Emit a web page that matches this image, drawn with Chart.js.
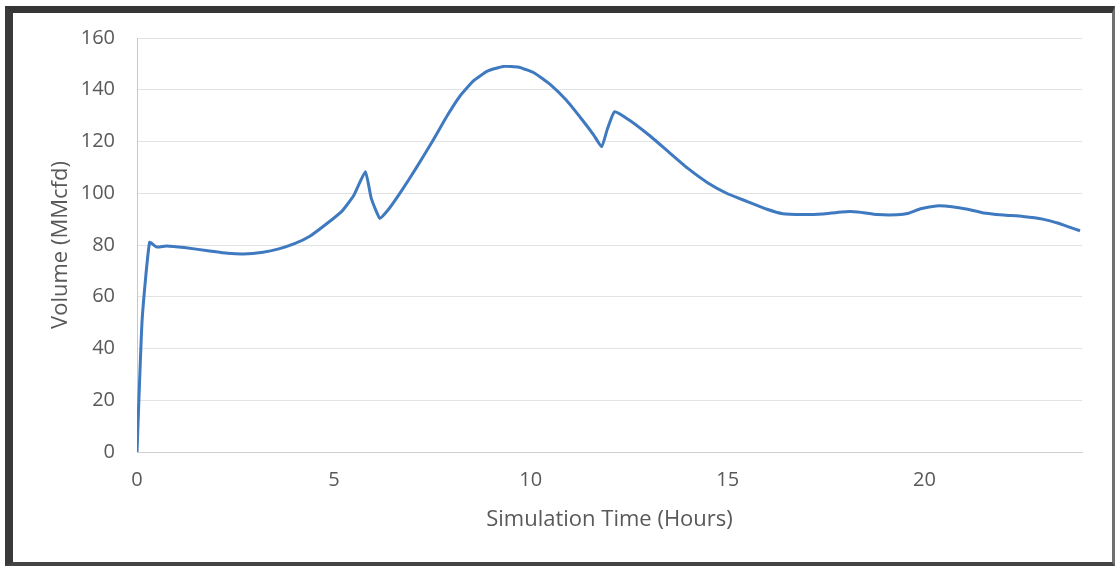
<!DOCTYPE html>
<html>
<head>
<meta charset="utf-8">
<script src="https://cdn.jsdelivr.net/npm/chart.js@4/dist/chart.umd.min.js"></script>
<style>
  html, body { margin: 0; padding: 0; background: #ffffff; }
  #wrap { position: absolute; left: 0; top: 0; width: 1117px; height: 566px; }
  #c { position: absolute; left: 0; top: 0; }
  #frame {
    position: absolute; left: 5px; top: 6px; width: 1110px; height: 560px;
    box-sizing: border-box;
    border-top: 7px solid #353535;
    border-left: 8px solid #3a3a3a;
    border-right: 3px solid #707070;
    border-bottom: 4px solid #454545;
    pointer-events: none;
  }
</style>
</head>
<body>
<div id="wrap">
  <canvas id="c" width="1117" height="566"></canvas>
  <div id="frame"></div>
</div>
<script>
// Data
const hours = [0, 0.13, 0.32, 0.5, 0.75, 1.2, 1.8, 2.3, 2.7, 3.2, 3.6, 4.0, 4.4, 4.8, 5.2, 5.5, 5.8, 5.95, 6.17, 6.4, 6.7, 7.1, 7.5, 7.9, 8.2, 8.55, 8.9, 9.3, 9.7, 10.1, 10.5, 10.9, 11.3, 11.6, 11.8, 11.95, 12.13, 12.5, 13.0, 13.5, 14.0, 14.5, 15.0, 15.5, 16.0, 16.4, 16.9, 17.4, 17.9, 18.3, 18.8, 19.3, 19.6, 19.9, 20.3, 20.7, 21.1, 21.5, 22.0, 22.5, 23.0, 23.4, 23.7, 23.95];
const volume = [0, 51, 81, 79.2, 79.6, 79, 77.8, 76.8, 76.5, 77.2, 78.5, 80.5, 83.5, 88, 93, 99, 108.3, 98, 90.3, 94, 100.5, 110, 120, 130.5, 137.5, 143.5, 147.2, 149, 148.7, 146.4, 142, 136, 128.5, 122.5, 118, 125, 131.5, 128.3, 122.5, 116, 109.5, 104, 99.8, 96.8, 93.8, 92.1, 91.8, 92, 92.8, 92.8, 91.8, 91.7, 92.3, 94, 95.1, 94.8, 93.8, 92.4, 91.6, 91, 90, 88.4, 86.8, 85.5];
const xTicks = [0, 5, 10, 15, 20];
const yTicks = [0, 20, 40, 60, 80, 100, 120, 140, 160];
const xTitle = 'Simulation Time (Hours)';
const yTitle = 'Volume (MMcfd)';

const points = hours.map((h, i) => ({ x: h, y: volume[i] }));
const FONT = "'Open Sans', sans-serif";

new Chart(document.getElementById('c'), {
  type: 'scatter',
  data: {
    datasets: [{
      data: points,
      showLine: true,
      borderColor: '#3f79c0',
      borderWidth: 3,
      pointRadius: 0,
      tension: 0.15,
      fill: false
    }]
  },
  options: {
    responsive: false,
    animation: false,
    devicePixelRatio: 1,
    layout: { padding: { left: 0, top: 38, right: 35, bottom: 0 } },
    plugins: { legend: { display: false }, tooltip: { enabled: false } },
    scales: {
      x: {
        type: 'linear',
        min: 0, max: 24,
        afterBuildTicks: s => { s.ticks = xTicks.map(v => ({ value: v })); },
        afterFit: s => { s.height = 114; },
        grid: { display: false, drawTicks: false },
        border: { display: true, color: '#d0d0d0', width: 1 },
        ticks: { padding: 16, color: '#595959', font: { family: FONT, size: 20 }, maxRotation: 0 },
        title: { display: true, text: xTitle, color: '#595959', font: { family: FONT, size: 22 }, padding: { top: 0, bottom: 33 } }
      },
      y: {
        type: 'linear',
        min: 0, max: 160,
        afterBuildTicks: s => { s.ticks = yTicks.map(v => ({ value: v })); },
        afterFit: s => { s.width = 137; },
        grid: { color: '#e3e3e3', lineWidth: 1, drawTicks: false },
        border: { display: true, color: '#c8c8c8', width: 1 },
        ticks: { padding: 22, color: '#595959', font: { family: FONT, size: 20 } },
        title: { display: true, text: yTitle, color: '#595959', font: { family: FONT, size: 22 }, padding: { top: 48, bottom: 0 } }
      }
    }
  }
});
</script>
</body>
</html>
